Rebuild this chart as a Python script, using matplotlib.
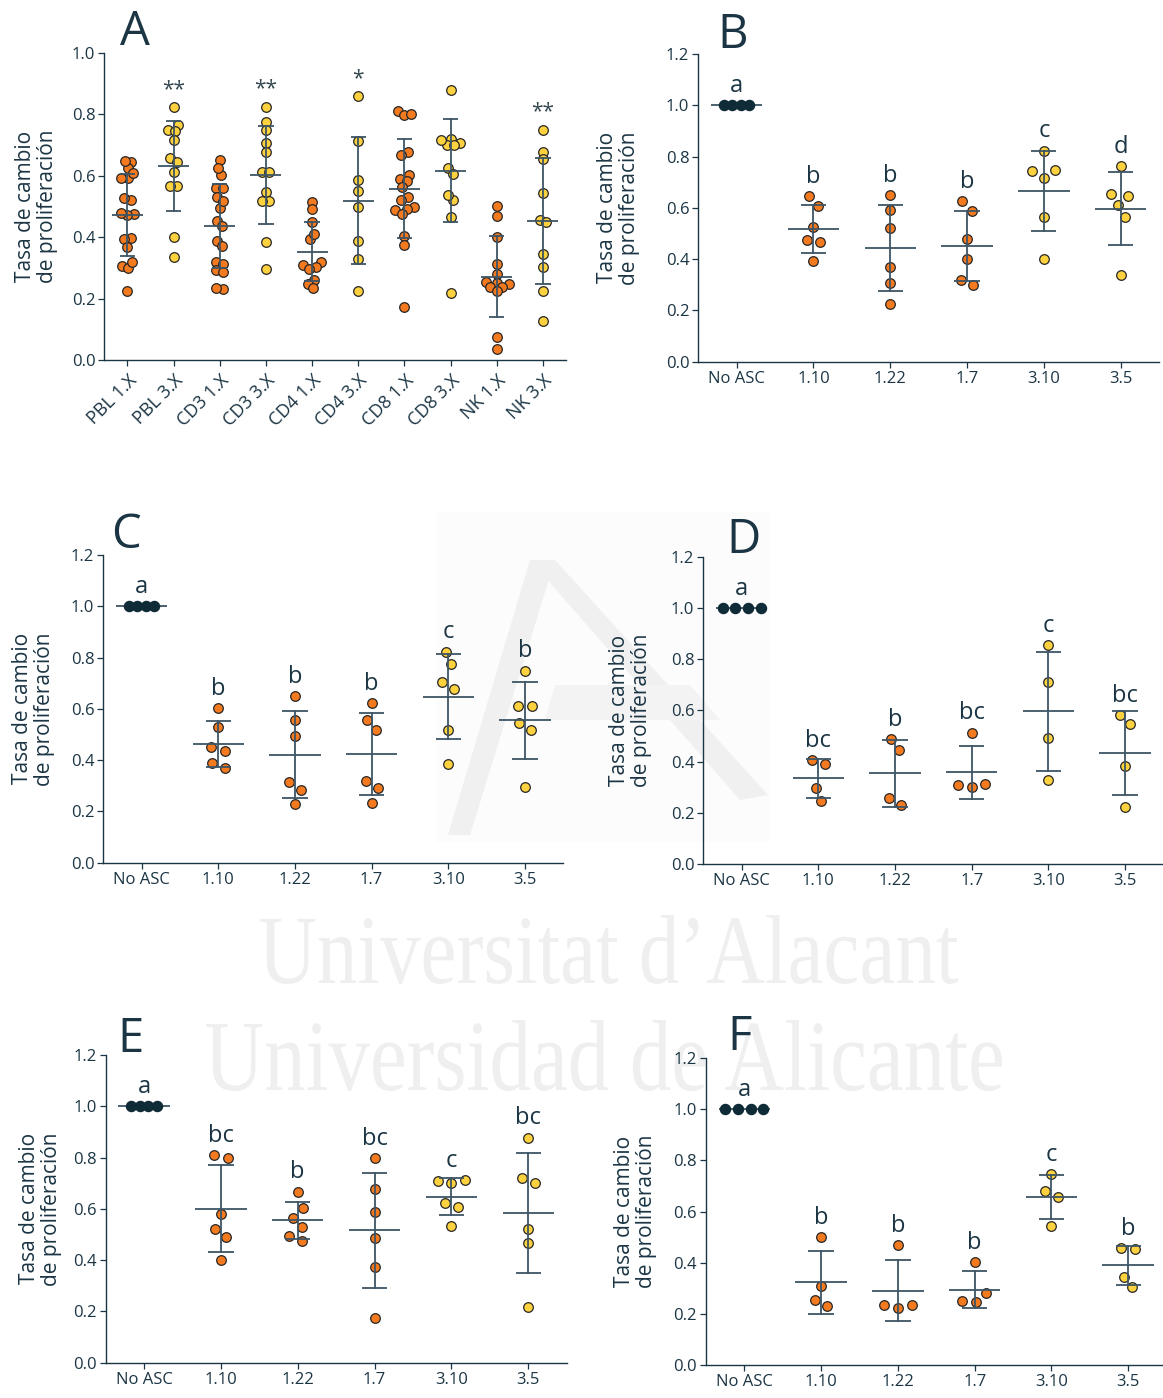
import numpy as np
import matplotlib
matplotlib.use('Agg')
import matplotlib.pyplot as plt
from matplotlib.textpath import TextPath
from matplotlib.patches import PathPatch, Polygon, Rectangle
from matplotlib.font_manager import FontProperties
import matplotlib.transforms as mtransforms

plt.rcParams['font.family'] = ['Open Sans', 'DejaVu Sans']

# ---------------- data ----------------
a_categories = ['PBL 1.X', 'PBL 3.X', 'CD3 1.X', 'CD3 3.X', 'CD4 1.X',
                'CD4 3.X', 'CD8 1.X', 'CD8 3.X', 'NK 1.X', 'NK 3.X']
a_pbl1 = [0.645, 0.626, 0.649, 0.593, 0.593, 0.608, 0.521, 0.528, 0.474, 0.471,
          0.480, 0.397, 0.395, 0.367, 0.305, 0.299, 0.318, 0.225]
a_pbl3 = [0.823, 0.748, 0.766, 0.747, 0.718, 0.657, 0.646, 0.611, 0.567, 0.567,
          0.400, 0.337]
a_cd3_1 = [0.604, 0.652, 0.624, 0.561, 0.559, 0.530, 0.495, 0.518, 0.452, 0.437,
           0.387, 0.371, 0.318, 0.313, 0.293, 0.286, 0.230, 0.234]
a_cd3_3 = [0.824, 0.776, 0.750, 0.708, 0.679, 0.613, 0.611, 0.547, 0.518, 0.518,
           0.384, 0.297]
a_cd4_1 = [0.516, 0.491, 0.448, 0.393, 0.411, 0.318, 0.310, 0.302, 0.298, 0.261,
           0.249, 0.233]
a_cd4_3 = [0.859, 0.714, 0.585, 0.549, 0.497, 0.387, 0.329, 0.226]
a_cd8_1 = [0.811, 0.799, 0.800, 0.678, 0.668, 0.603, 0.590, 0.582, 0.565, 0.530,
           0.521, 0.497, 0.491, 0.487, 0.476, 0.404, 0.375, 0.174]
a_cd8_3 = [0.880, 0.721, 0.708, 0.701, 0.715, 0.700, 0.625, 0.607, 0.522, 0.536,
           0.467, 0.217]
a_nk1 = [0.502, 0.469, 0.402, 0.313, 0.280, 0.254, 0.252, 0.247, 0.239, 0.237,
         0.226, 0.076, 0.037]
a_nk3 = [0.750, 0.679, 0.655, 0.543, 0.457, 0.451, 0.345, 0.304, 0.226, 0.127]
a_groups = [a_pbl1, a_pbl3, a_cd3_1, a_cd3_3, a_cd4_1, a_cd4_3, a_cd8_1, a_cd8_3,
            a_nk1, a_nk3]
a_kinds = ['o', 'y', 'o', 'y', 'o', 'y', 'o', 'y', 'o', 'y']
a_marks = ['', '**', '', '**', '', '*', '', '', '', '**']

asc_categories = ['No ASC', '1.10', '1.22', '1.7', '3.10', '3.5']
asc_kinds = ['k', 'o', 'o', 'o', 'y', 'y']
no_asc = [1.0, 1.0, 1.0, 1.0]

b_groups = [no_asc,
            [0.645, 0.607, 0.527, 0.475, 0.468, 0.394],
            [0.649, 0.592, 0.520, 0.368, 0.306, 0.225],
            [0.625, 0.589, 0.480, 0.399, 0.319, 0.299],
            [0.823, 0.748, 0.745, 0.718, 0.566, 0.400],
            [0.764, 0.645, 0.654, 0.610, 0.566, 0.338]]
b_letters = ['a', 'b', 'b', 'b', 'c', 'd']

c_groups = [no_asc,
            [0.603, 0.528, 0.450, 0.437, 0.387, 0.369],
            [0.649, 0.558, 0.494, 0.315, 0.285, 0.228],
            [0.623, 0.556, 0.519, 0.319, 0.293, 0.233],
            [0.823, 0.775, 0.705, 0.677, 0.519, 0.384],
            [0.749, 0.610, 0.612, 0.545, 0.519, 0.296]]
c_letters = ['a', 'b', 'b', 'b', 'c', 'b']

d_groups = [no_asc,
            [0.407, 0.390, 0.295, 0.247],
            [0.488, 0.445, 0.258, 0.229],
            [0.513, 0.312, 0.301, 0.307],
            [0.855, 0.711, 0.493, 0.328],
            [0.583, 0.547, 0.383, 0.224]]
d_letters = ['a', 'bc', 'b', 'bc', 'c', 'bc']

e_groups = [no_asc,
            [0.810, 0.800, 0.581, 0.521, 0.490, 0.402],
            [0.667, 0.602, 0.566, 0.529, 0.493, 0.476],
            [0.798, 0.677, 0.588, 0.488, 0.374, 0.173],
            [0.711, 0.699, 0.710, 0.621, 0.607, 0.534],
            [0.878, 0.720, 0.701, 0.521, 0.465, 0.216]]
e_letters = ['a', 'bc', 'b', 'bc', 'c', 'bc']

f_groups = [no_asc,
            [0.499, 0.309, 0.255, 0.231],
            [0.468, 0.237, 0.225, 0.237],
            [0.402, 0.282, 0.246, 0.252],
            [0.746, 0.680, 0.655, 0.543],
            [0.458, 0.452, 0.345, 0.304]]
f_letters = ['a', 'b', 'b', 'b', 'c', 'b']

ylabel = 'Tasa de cambio\nde proliferación'

# ---------------- style ----------------
W, H = 1163, 1398
TEXT = '#1b3544'
STAR = '#34474f'
LINE = '#3e5566'
EDGE = '#262626'
FILL = {'o': '#f47a20', 'y': '#fdd23e', 'k': '#0f2b38'}

fig = plt.figure(figsize=(W / 100, H / 100), dpi=100)
fig.patch.set_facecolor('white')


def px_box(x0, x1, ytop, ybot):
    return [x0 / W, 1 - ybot / H, (x1 - x0) / W, (ybot - ytop) / H]


# ---------------- watermark ----------------
def watermark(text, x0, x1, ytop, ybase):
    tp = TextPath((0, 0), text, size=100,
                  prop=FontProperties(family='Liberation Serif'))
    ext = tp.get_extents()
    sx = (x1 - x0) / ext.width
    sy = (ybase - ytop) / ext.y1
    tr = (mtransforms.Affine2D().translate(-ext.x0, 0).scale(sx, sy)
          .translate(x0, H - ybase))
    fig.add_artist(PathPatch(tp, transform=tr, facecolor='#efefef',
                             edgecolor='none', zorder=-10))


def pxt():
    return mtransforms.Affine2D().scale(1, -1).translate(0, H)


fig.add_artist(Rectangle((436, 512), 334, 330, transform=pxt(),
                         facecolor='#fcfcfc', edgecolor='none', zorder=-12))
fig.add_artist(Polygon([(448, 835), (530, 560), (555, 560), (470, 835)],
                       closed=True, transform=pxt(), facecolor='#f0f0f0',
                       edgecolor='none', zorder=-11))
fig.add_artist(Polygon([(530, 560), (555, 560), (768, 795), (740, 800)],
                       closed=True, transform=pxt(), facecolor='#f0f0f0',
                       edgecolor='none', zorder=-11))
fig.add_artist(Polygon([(555, 685), (690, 685), (720, 720), (545, 720)],
                       closed=True, transform=pxt(), facecolor='#f3f3f3',
                       edgecolor='none', zorder=-11))
watermark('Universitat d\u2019Alacant', 260, 958, 915, 983)
watermark('Universidad de Alicante', 206, 1002, 1020, 1090)


# ---------------- helpers ----------------
def swarm(vals, ppu, sx, h):
    vals = np.asarray(vals, dtype=float)
    order = np.argsort(vals, kind='stable')
    placed = []
    offs = np.zeros(len(vals))
    last = 1
    for i in order:
        y = vals[i] * ppu
        cands = [0.0]
        for xj, yj in placed:
            dy = abs(y - yj)
            if dy < h:
                dx = sx * np.sqrt(1 - (dy / h) ** 2)
                cands += [xj - dx, xj + dx]
        cands = sorted(set(round(c, 4) for c in cands),
                       key=lambda c: (round(abs(c), 2), c * last))
        chosen = 0.0
        for c in cands:
            ok = all(((c - xj) / sx) ** 2 + ((y - yj) / h) ** 2 >= 0.999
                     for xj, yj in placed)
            if ok:
                chosen = c
                break
        if chosen != 0:
            last = 1 if chosen < 0 else -1
        placed.append((chosen, y))
        offs[i] = chosen
    # centre each chain of vertically-close points around the category axis
    ys = vals * ppu
    idx = np.argsort(ys)
    chains, cur = [], [idx[0]]
    for a, b in zip(idx[:-1], idx[1:]):
        if ys[b] - ys[a] < h:
            cur.append(b)
        else:
            chains.append(cur)
            cur = [b]
    chains.append(cur)
    for ch in chains:
        if len(ch) > 1:
            offs[ch] -= offs[ch].mean()
    return offs


def style_axes(ax, ymax, nticks_cat):
    ax.set_facecolor('none')
    for s in ['top', 'right']:
        ax.spines[s].set_visible(False)
    for s in ['left', 'bottom']:
        ax.spines[s].set_color(TEXT)
        ax.spines[s].set_linewidth(1.0)
    ax.set_ylim(0, ymax)
    ax.set_xlim(-0.5, nticks_cat - 0.5)
    ax.set_yticks(np.round(np.arange(0, ymax + 0.001, 0.2), 1))
    ax.set_yticklabels(['%.1f' % t for t in np.arange(0, ymax + 0.001, 0.2)])
    ax.tick_params(axis='both', direction='out', length=4, width=0.9,
                   colors=TEXT, labelsize=12, pad=2.5)


def draw_groups(ax, groups, kinds, ymax, sx_px, h_px, noasc_sp=8.5):
    bb = ax.get_position()
    ax_w = bb.width * W
    ax_h = bb.height * H
    n = len(groups)
    cat_px = ax_w / n
    ppu = ax_h / ymax
    for i, (vals, kind) in enumerate(zip(groups, kinds)):
        vals = np.asarray(vals, dtype=float)
        if kind == 'k':
            k = np.arange(len(vals)) - (len(vals) - 1) / 2
            offs = k * noasc_sp
            ms = 54
            ec = FILL['k']
        else:
            offs = swarm(vals, ppu, sx_px, h_px)
            ms = 48
            ec = EDGE
        ax.scatter(i + offs / cat_px, vals, s=ms, c=FILL[kind], edgecolors=ec,
                   linewidths=0.9, zorder=3, clip_on=False)
        m = vals.mean()
        sd = vals.std(ddof=1)
        ax.plot([i - 0.335, i + 0.335], [m, m], color=LINE, lw=1.3,
                zorder=2 if kind == 'k' else 4, solid_capstyle='butt')
        if sd > 0:
            ax.plot([i, i], [m - sd, m + sd], color=LINE, lw=1.3, zorder=4)
            for yv in (m - sd, m + sd):
                ax.plot([i - 0.165, i + 0.165], [yv, yv], color=LINE, lw=1.3,
                        zorder=4, solid_capstyle='butt')


def annotate(ax, groups, labels, size, color, off):
    for i, (vals, lab) in enumerate(zip(groups, labels)):
        if lab:
            ax.annotate(lab, xy=(i, max(vals)), xytext=(0, off),
                        textcoords='offset points', ha='center', va='baseline',
                        fontsize=size, color=color, zorder=5)


def panel_letter(letter, x, ybase):
    fig.text(x / W, 1 - ybase / H, letter, fontsize=34, color=TEXT,
             ha='left', va='baseline')


# ---------------- panel A ----------------
axA = fig.add_axes(px_box(104.3, 566, 53, 360))
style_axes(axA, 1.0, 10)
axA.set_xticks(range(10))
axA.set_xticklabels(a_categories, rotation=45, ha='right',
                    rotation_mode='anchor', fontsize=13)
axA.tick_params(axis='x', pad=4)
draw_groups(axA, a_groups, a_kinds, 1.0, 7.0, 7.0)
annotate(axA, a_groups, a_marks, 15, STAR, 9.0)
axA.set_ylabel(ylabel, fontsize=15, color=TEXT, linespacing=1.05)
axA.yaxis.set_label_coords(-0.100, 0.5)
panel_letter('A', 120, 45)

# ---------------- panels B-F ----------------
panels = [
    ('B', b_groups, b_letters, px_box(698.3, 1159, 54, 361.7), -0.127, 8.5, (717, 48)),
    ('C', c_groups, c_letters, px_box(103.3, 563.3, 555, 862.7), -0.105, 8.5, (111, 548)),
    ('D', d_groups, d_letters, px_box(703.3, 1163.4, 556.7, 864), -0.1115, 12.7, (726, 553)),
    ('E', e_groups, e_letters, px_box(105.6, 566.7, 1055, 1362.7), -0.0946, 8.5, (117, 1052)),
    ('F', f_groups, f_letters, px_box(706, 1166.6, 1057.7, 1365.3), -0.1065, 12.7, (727, 1050)),
]
for letter, groups, letters, box, lab_x, sp, (lx, ly) in panels:
    ax = fig.add_axes(box)
    style_axes(ax, 1.2, 6)
    ax.set_xticks(range(6))
    ax.set_xticklabels(asc_categories)
    draw_groups(ax, groups, asc_kinds, 1.2, 14.0, 13, noasc_sp=sp)
    annotate(ax, groups, letters, 17, TEXT, 9.5)
    ax.set_ylabel(ylabel, fontsize=15, color=TEXT, linespacing=1.05)
    ax.yaxis.set_label_coords(lab_x, 0.5)
    panel_letter(letter, lx, ly)

fig.savefig('out.png', dpi=100, facecolor='white')
